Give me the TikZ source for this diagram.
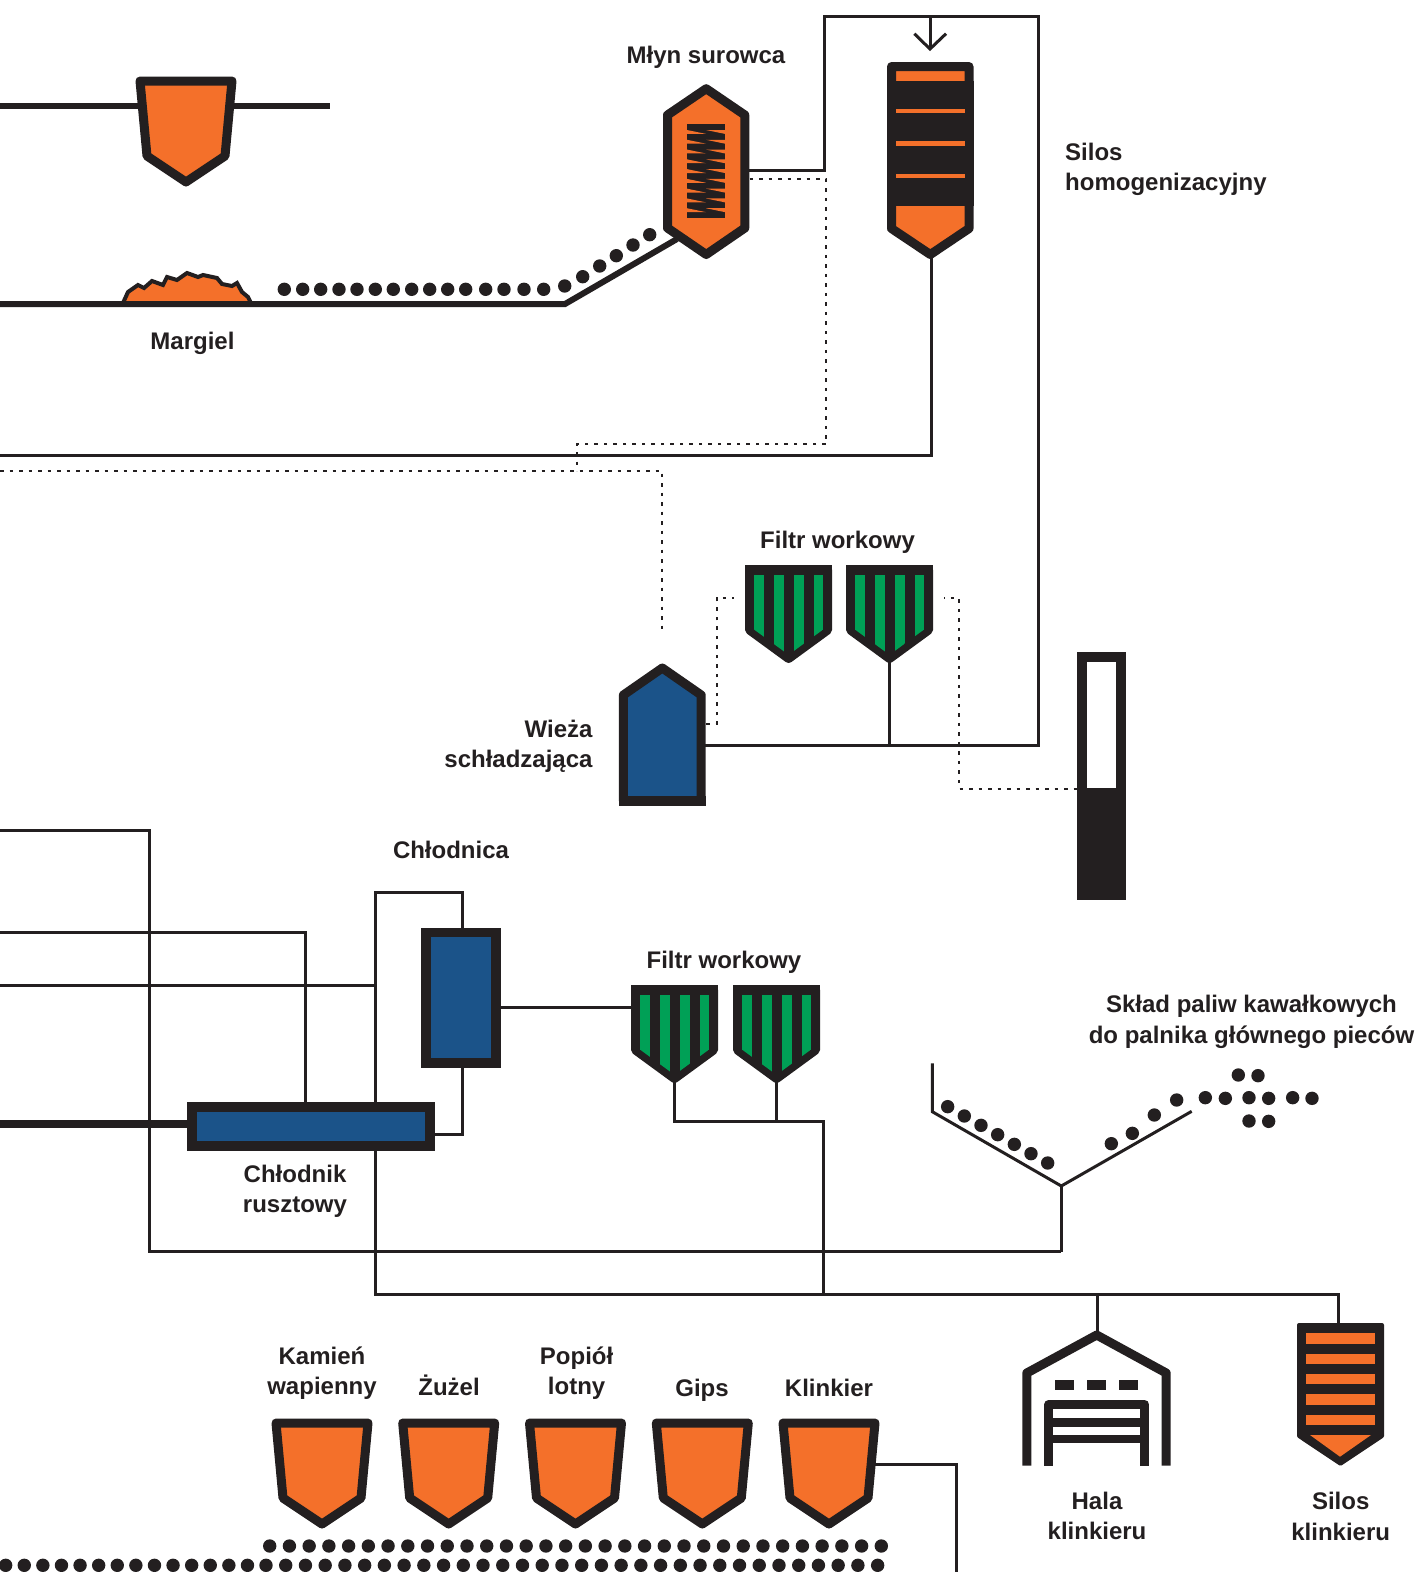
\documentclass[tikz,border=0pt]{standalone}
\usepackage{fontspec}
\setmainfont{Liberation Sans}
\definecolor{ink}{HTML}{231F20}
\definecolor{orangefill}{HTML}{F4702A}
\definecolor{bluefill}{HTML}{1B5389}
\definecolor{greenfill}{HTML}{00A056}
\tikzset{
  pipe/.style={draw=ink,line width=3pt},
  heavy/.style={draw=ink,line width=6pt},
  dotline/.style={draw=ink,line width=2pt,dash pattern=on 3.5pt off 6pt},
  shell/.style={draw=ink,line width=9pt,line join=round},
  lbl/.style={font=\fontsize{24}{30.5}\selectfont\bfseries,text=ink,inner sep=0pt,anchor=base,align=center},
  lbll/.style={lbl,align=left,anchor=base west},
  lblr/.style={lbl,align=right,anchor=base east}
}
\newcommand{\hopperat}[2]{%
  \begin{scope}[shift={(#1,#2)}]
    \path[shell,fill=orangefill] (-46,5)--(46,5)--(39,80)--(0,106)--(-39,80)--cycle;
  \end{scope}}
\newcommand{\filterat}[2]{%
  \begin{scope}[shift={(#1,#2)}]
    \path[shell,fill=ink] (-39,5)--(39,5)--(39,65)--(0,93.5)--(-39,65)--cycle;
    \fill[ink] (-43.5,0) rectangle (43.5,10);
    \begin{scope}
      \clip (-34.6,10)--(34.6,10)--(34.6,64.5)--(0,89.8)--(-34.6,64.5)--cycle;
      \fill[greenfill] (-34.6,10) rectangle (-25,95);
      \fill[greenfill] (-15,10) rectangle (-5,95);
      \fill[greenfill] (5,10) rectangle (15,95);
      \fill[greenfill] (25,10) rectangle (34.6,95);
    \end{scope}
  \end{scope}}
\newcommand{\ball}[2]{\fill[ink] (#1,#2) circle[radius=6.7pt];}
\begin{document}
\begin{tikzpicture}[x=1pt,y=-1pt]
\useasboundingbox (0,0) rectangle (1419,1572);

% ---- named connector points
\coordinate (hopL) at (0,106);       \coordinate (hopR) at (330,106);
\coordinate (beltL) at (0,304);      \coordinate (beltK) at (565,304);   \coordinate (millLow) at (677,239);
\coordinate (millA) at (745,170);    \coordinate (f1) at (824.7,170);    \coordinate (f2) at (824.7,16);
\coordinate (f3) at (1038.5,16);     \coordinate (f4) at (1038.5,745.3); \coordinate (towerA) at (703,745.3);
\coordinate (stemA) at (889.6,655);  \coordinate (stemB) at (889.6,745.3);
\coordinate (siloB) at (931.3,255);  \coordinate (s1) at (931.3,455);    \coordinate (s2) at (0,455);
\coordinate (arrTop) at (930,16);    \coordinate (arrTip) at (930,49);
\coordinate (arrL) at (914.3,33.7);  \coordinate (arrR) at (946,33.7);
\coordinate (millD) at (749.5,179.3);  \coordinate (d1) at (826,179.3);    \coordinate (d2) at (826,444.3);
\coordinate (d3) at (576.7,444.3);   \coordinate (d4) at (576.7,471);
\coordinate (d5) at (0,471);         \coordinate (d6) at (662.3,471);    \coordinate (d7) at (662.3,631.7);
\coordinate (towerD) at (706,723.7); \coordinate (e1) at (716.7,723.7);  \coordinate (e2) at (716.7,598);
\coordinate (e3) at (733.6,598);
\coordinate (g0) at (944.4,598);     \coordinate (g1) at (959,598);      \coordinate (g2) at (959,788.7);
\coordinate (g3) at (1082,788.7);
\coordinate (a0) at (0,830);         \coordinate (a1) at (149.3,830);    \coordinate (a2) at (149.3,1251.7);
\coordinate (a3) at (1061.3,1251.7); \coordinate (vTip) at (1061.3,1186);
\coordinate (b0) at (0,932.7);       \coordinate (b1) at (305.4,932.7);  \coordinate (b2) at (305.4,1104);
\coordinate (c0) at (0,985);         \coordinate (c1) at (375.6,985);
\coordinate (h0) at (375.6,892.3);   \coordinate (h1) at (462.4,892.3);  \coordinate (h2) at (462.4,930);
\coordinate (h3) at (375.6,1294.3);  \coordinate (h4) at (1338.7,1294.3);\coordinate (h5) at (1338.7,1325);
\coordinate (k1) at (462.4,1065);    \coordinate (k2) at (462.4,1134.3); \coordinate (k3) at (432,1134.3);
\coordinate (t0) at (0,1123.7);      \coordinate (t1) at (190,1123.7);
\coordinate (m1) at (498,1007.3);    \coordinate (m2) at (634,1007.3);
\coordinate (n1) at (674.5,1075);    \coordinate (n2) at (674.5,1121.3); \coordinate (n3) at (776.5,1075);
\coordinate (n4) at (776.5,1121.3);  \coordinate (n5) at (823.3,1121.3); \coordinate (n6) at (823.3,1294.3);
\coordinate (hallJ) at (1097.3,1294.3); \coordinate (hallT) at (1097.3,1333);
\coordinate (v0) at (932.3,1063.3);  \coordinate (v1) at (932.3,1111.7); \coordinate (v2) at (1191.7,1111.3);
\coordinate (q0) at (872,1464.3);    \coordinate (q1) at (956.7,1464.3); \coordinate (q2) at (956.7,1575);

% ---- connectors
\draw[heavy] (hopL)--(hopR);
\draw[pipe] (millA)--(f1)--(f2)--(f3)--(f4)--(towerA);
\draw[pipe] (stemA)--(stemB);
\draw[pipe] (siloB)--(s1)--(s2);
\draw[pipe] (arrTop)--(arrTip);
\draw[pipe,line join=miter] (arrL)--(arrTip)--(arrR);
\draw[dotline] (millD)--(d1)--(d2)--(d3)--(d4);
\draw[dotline] (d5)--(d6)--(d7);
\draw[dotline] (towerD)--(e1)--(e2)--(e3);
\draw[dotline,dash phase=3pt] (g0)--(g1)--(g2)--(g3);
\draw[pipe] (a0)--(a1)--(a2)--(a3);
\draw[pipe] (vTip)--(a3);
\draw[pipe] (b0)--(b1)--(b2);
\draw[pipe] (c0)--(c1);
\draw[pipe] (h2)--(h1)--(h0)--(h3)--(h4)--(h5);
\draw[pipe] (k1)--(k2)--(k3);
\draw[draw=ink,line width=8pt] (t0)--(t1);
\draw[pipe] (m1)--(m2);
\draw[pipe] (n1)--(n2)--(n5)--(n6);
\draw[pipe] (n3)--(n4);
\draw[pipe] (hallJ)--(hallT);
\draw[pipe,line join=miter] (v0)--(v1)--(vTip)--(v2);
\draw[pipe] (q0)--(q1)--(q2);

% ---- top hopper
\hopperat{186}{76}

% ---- marl heap and belt
\path[draw=ink,line width=4pt,line join=miter,fill=orangefill]
  (123,303)--(128,292)--(138,285)--(144,288)--(152,281)--(163,285)--(167,277)--(177,280)--(187,273)
  --(198,277)--(203,275)--(217,278)--(222,284)--(232,286)--(237,283)--(242,292)--(248,297)--(251,303);
\draw[heavy,line join=miter] (beltL)--(beltK)--(millLow);
\foreach \px in {284.3,302.7,320.7,339,357,375.3,393.3,411.7,429.7,447.7,465.7,485.7,504,524,543.7}
  {\ball{\px}{289.3}}
\foreach \px/\py in {564.7/286,582.7/276.7,599.7/266,616.3/255.7,633/245,649.7/234.7}
  {\ball{\px}{\py}}

% ---- raw mill
\path[shell,fill=orangefill] (706.2,88.7)--(744.8,115)--(744.8,228)--(706.2,254.5)--(667.5,228)--(667.5,115)--cycle;
\fill[ink] (687,124) rectangle (725,218);
\foreach \i in {0,...,8}{
  \pgfmathsetmacro{\ya}{130+\i*9.78}
  \pgfmathsetmacro{\yb}{\ya+3.9}
  \fill[orangefill] (687,\ya)--(687,\yb)--(706,\yb)--cycle;
  \fill[orangefill] (725,\ya)--(725,\yb)--(706,\ya)--cycle;
}

% ---- homogenising silo
\path[shell,fill=orangefill] (891.5,66.5)--(969,66.5)--(969,228.5)--(930.3,254.5)--(891.5,228.5)--cycle;
\fill[ink] (887.3,81) rectangle (973.6,206);
\fill[orangefill] (896,109) rectangle (964.7,113);
\fill[orangefill] (896,141) rectangle (964.7,145.7);
\fill[orangefill] (896,174) rectangle (964.7,178);

% ---- baghouse pair 1
\filterat{788.6}{565}
\filterat{889.5}{565}

% ---- cooling tower
\path[shell,fill=bluefill] (662.3,668)--(701.2,695)--(701.2,801)--(623.4,801)--(623.4,695)--cycle;
\fill[ink] (619,796) rectangle (705.7,806);

% ---- kiln column
\fill[ink] (1077,652) rectangle (1125.8,900);
\fill[white] (1087,662) rectangle (1115.8,788);

% ---- cooler and grate cooler
\node[fill=ink,minimum width=80pt,minimum height=140pt,inner sep=0pt,outer sep=0pt] (cooler) at (461,997.5) {};
\fill[bluefill] (431.2,937) rectangle (490.9,1058);
\node[fill=ink,minimum width=247.5pt,minimum height=48.5pt,inner sep=0pt,outer sep=0pt] (grate) at (311,1126.3) {};
\fill[bluefill] (197,1112) rectangle (424.8,1141);

% ---- baghouse pair 2
\filterat{674.5}{985}
\filterat{776.5}{985}

% ---- fuel trough dots
\foreach \px/\py in {83/170,133/198,183/226,233/254,283/283,333/311,383/339,574/281,637/250,703/195,770/150,
  856/143,916/145,987/143,1046/145,1118/143,1176/145,955/75,1014/77,987/213,1046/214}
  {\fill[ink] ({920+\px/3},{1050+\py/3}) circle[radius=6.7pt];}

% ---- clinker hall
\draw[shell] (1026.8,1465.7)--(1026.8,1373)--(1096.7,1335)--(1166.2,1373)--(1166.2,1465.7);
\fill[ink] (1055,1380) rectangle (1074,1390);
\fill[ink] (1087,1380) rectangle (1106,1390);
\fill[ink] (1119,1380) rectangle (1138,1390);
\draw[shell] (1048.8,1465.7)--(1048.8,1404.5)--(1144.5,1404.5)--(1144.5,1465.7);
\fill[ink] (1048,1418) rectangle (1145,1427);
\fill[ink] (1048,1434.7) rectangle (1145,1443.3);

% ---- clinker silo
\path[draw=ink,line width=4pt,line join=round,fill=ink] (1299,1325)--(1382,1325)--(1382,1436)--(1340.5,1463.7)--(1299,1436)--cycle;
\fill[orangefill] (1306,1333) rectangle (1374.7,1344);
\fill[orangefill] (1306,1353.7) rectangle (1374.7,1364);
\fill[orangefill] (1306,1373.7) rectangle (1374.7,1384.3);
\fill[orangefill] (1306,1394) rectangle (1374.7,1405);
\fill[orangefill] (1306,1415) rectangle (1374.7,1425);
\fill[orangefill] (1310,1435)--(1371,1435)--(1340,1456.7)--cycle;

% ---- additive hoppers
\hopperat{322}{1418}
\hopperat{448.7}{1418}
\hopperat{575.5}{1418}
\hopperat{702.3}{1418}
\hopperat{829}{1418}

% ---- belts of dots
\foreach \i in {0,...,31}{\fill[ink] ({269.7+\i*19.73},1546) circle[radius=6.7pt];}
\foreach \i in {0,...,13}{\fill[ink] ({5.67+\i*18.6},1565.3) circle[radius=6.7pt];}
\foreach \i in {0,...,31}{\fill[ink] ({266+\i*19.73},1565.3) circle[radius=6.7pt];}

% ---- labels
\node[lbl] (tMlyn) at (706,63) {Młyn surowca};
\node[lbll] (tSilos) at (1065,190.5) {Silos\\homogenizacyjny};
\node[lbl] (tMargiel) at (192.5,349) {Margiel};
\node[lbl] (tFiltrA) at (837.5,548) {Filtr workowy};
\node[lblr] (tWieza) at (592.7,767.5) {Wieża\\schładzająca};
\node[lbl] (tChlodnica) at (451,858) {Chłodnica};
\node[lbl] (tFiltrB) at (724,968) {Filtr workowy};
\node[lbl] (tSklad) at (1251.5,1043) {Skład paliw kawałkowych\\do palnika głównego pieców};
\node[lbl] (tRuszt) at (295,1212.5) {Chłodnik\\rusztowy};
\node[lbl] (tKamien) at (322,1394.5) {Kamień\\wapienny};
\node[lbl] (tZuzel) at (449,1395) {Żużel};
\node[lbl] (tPopiol) at (576.6,1394.5) {Popiół\\lotny};
\node[lbl] (tGips) at (702,1396) {Gips};
\node[lbl] (tKlinkier) at (829,1396) {Klinkier};
\node[lbl] (tHala) at (1097,1539.5) {Hala\\klinkieru};
\node[lbl] (tSilosK) at (1340.7,1540) {Silos\\klinkieru};
\end{tikzpicture}
\end{document}
